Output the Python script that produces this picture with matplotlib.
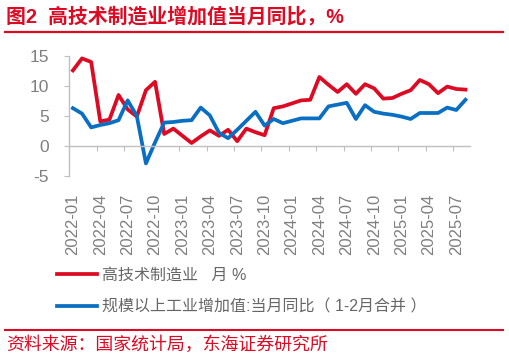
import matplotlib
matplotlib.use('Agg')
import matplotlib.pyplot as plt
import numpy as np
from matplotlib.lines import Line2D

plt.rcParams['font.family'] = ['Liberation Sans', 'Noto Sans CJK SC']

# ---- data ----
months = [f'{y}-{m:02d}' for y in range(2022, 2026) for m in range(1, 13)][:44]

high_tech = [12.6, 14.6, 14.0, 4.1, 4.4, 8.5, 6.1, 4.9, 9.3, 10.7,
             2.0, 2.9, 1.7, 0.5, 1.6, 2.6, 1.7, 2.7, 0.8, 2.9,
             2.3, 1.8, 6.3, 6.6, 7.1, 7.6, 7.7, 11.5, 10.2, 9.0,
             10.3, 8.7, 10.3, 9.6, 7.9, 8.0, 8.7, 9.3, 11.0, 10.3,
             8.8, 9.9, 9.5, 9.4]

industrial = [6.3, 5.4, 3.1, 3.5, 3.8, 4.3, 7.6, 5.0, -2.9, 0.6,
              3.9, 4.0, 4.2, 4.3, 6.4, 5.1, 2.2, 1.3, 2.7, 4.2,
              5.7, 3.4, 4.5, 3.8, 4.2, 4.6, 4.6, 4.6, 6.6, 6.9,
              7.2, 4.5, 6.8, 5.7, 5.4, 5.2, 4.9, 4.5, 5.5, 5.5,
              5.5, 6.4, 6.0, 7.7]

series_names = ['高技术制造业   月 %', '规模以上工业增加值:当月同比（ 1-2月合并 ）']
title = '图2  高技术制造业增加值当月同比，%'
source = '资料来源：国家统计局，东海证券研究所'
yticks = [-5, 0, 5, 10, 15]

RED = '#DD0A24'
BLUE = '#0A6FC2'
GRAY = '#7F7F7F'
AXC = '#BFBFBF'

W, H = 509, 359
fig = plt.figure(figsize=(W / 100, H / 100), dpi=100)
ax = fig.add_axes([68.7 / W, 1 - 176 / H, (470 - 68.7) / W, 120 / H])

x = np.arange(len(months))
l1, = ax.plot(x, high_tech, color=RED, lw=2.7, label=series_names[0])
l2, = ax.plot(x, industrial, color=BLUE, lw=2.7, label=series_names[1])

ax.set_xlim(-0.46, len(months) - 0.5)
ax.set_ylim(-5, 15)
ax.set_yticks(yticks)
ax.set_yticklabels([str(v) for v in yticks])

for s in ['top', 'right']:
    ax.spines[s].set_visible(False)
ax.spines['left'].set_color(AXC)
ax.spines['left'].set_linewidth(1.0)
ax.spines['bottom'].set_position(('data', 0))
ax.spines['bottom'].set_color(AXC)
ax.spines['bottom'].set_linewidth(1.0)

# tick marks between categories every 3 months
ax.set_xticks([i - 0.35 for i in range(3, len(months), 3)])
ax.set_xticklabels([])
ax.tick_params(axis='x', which='major', length=3.5, color=AXC, direction='out')
ax.tick_params(axis='y', length=3.6, color=AXC, labelsize=12.5, labelcolor=GRAY, pad=10.5)

# category labels below the plot area (separate axis sharing the x scale)
lab = ax.secondary_xaxis(0.0)
lab.spines['bottom'].set_visible(False)
lab.set_xticks(x[::3])
lab.set_xticklabels(months[::3], rotation=90, fontsize=12, color=GRAY)
lab.tick_params(axis='x', length=0, pad=12.5)

leg = fig.legend(handles=[l1, l2], loc='upper left',
                 bbox_to_anchor=(57 / W, 1 - 268 / H), frameon=False,
                 fontsize=11.5, handlelength=2.5, handletextpad=0.3,
                 labelspacing=1.02, borderaxespad=0, borderpad=0)
for t in leg.get_texts():
    t.set_color('#666666')

fig.text(6 / W, 1 - 16.7 / H, title, color=RED, fontsize=14.3,
         fontweight='bold', va='center', ha='left')
fig.add_artist(Line2D([5 / W, 503 / W], [1 - 32.3 / H] * 2, color=RED, lw=1.6))
fig.add_artist(Line2D([5 / W, 503 / W], [1 - 330 / H] * 2, color=RED, lw=1.5))
fig.text(6 / W, 1 - 345 / H, source, color=RED, fontsize=12.9,
         va='center', ha='left')

fig.savefig('out.png', dpi=100)
